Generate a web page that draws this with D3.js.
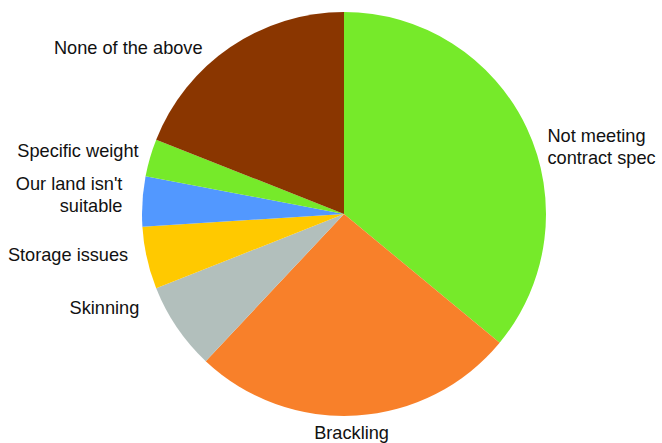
<!DOCTYPE html>
<html>
<head>
<meta charset="utf-8">
<script src="https://cdn.jsdelivr.net/npm/d3@7.9.0/dist/d3.min.js"></script>
<style>
    html, body { margin: 0; padding: 0; background: #fff; }
    svg { display: block; }
    .label { font-family: "Liberation Sans", Arial, Helvetica, sans-serif; font-size: 18.2px; fill: #111; }
</style>
</head>
<body>
<svg id="chart" width="662" height="443"></svg>
<script>
// chart values (percent of responses)
const categories = [
    'Not meeting\ncontract spec',
    'Brackling',
    'Skinning',
    'Storage issues',
    "Our land isn't\nsuitable",
    'Specific weight',
    'None of the above'
];
const values = [36, 26, 7, 5, 4, 3, 19];

const colors = ['#76ea2a', '#f8802a', '#b2bfbc', '#ffc900', '#5298ff', '#76ea2a', '#8a3600'];

// small hand nudges so labels sit where the original put them
const labelNudge = [[8, 25], [-6, 3], [-26, -28], [-5, -6], [-6, -6], [2, -3], [-20, 12]];

const cx = 344, cy = 214, radius = 202, lineH = 22;

const data = categories.map((c, i) => ({ label: c, value: values[i] }));

const svg = d3.select('#chart');
const g = svg.append('g').attr('transform', `translate(${cx},${cy})`);

let pie = d3.pie().value((d) => d.value).sort(null);
let arc = d3.arc().innerRadius(0).outerRadius(radius);
let labelArc = d3.arc().innerRadius(radius + 14).outerRadius(radius + 14);

const arcData = pie(data);

g.selectAll('path')
    .data(arcData)
    .join('path')
    .attr('d', arc)
    .attr('fill', (d, i) => colors[i]);

arcData.forEach((d, i) => {
    let [x, y] = labelArc.centroid(d);
    x += labelNudge[i][0];
    y += labelNudge[i][1];
    let mid = (d.startAngle + d.endAngle) / 2;
    let anchor = Math.abs(Math.sin(mid)) < 0.2 ? 'middle' : (Math.sin(mid) > 0 ? 'start' : 'end');
    let lines = d.data.label.split('\n');

    let text = g.append('text')
        .attr('class', 'label')
        .attr('text-anchor', anchor)
        .attr('transform', `translate(${x},${y})`);

    lines.forEach((line, j) => {
        text.append('tspan')
            .attr('x', 0)
            .attr('y', (j - (lines.length - 1) / 2) * lineH)
            .attr('dy', '0.35em')
            .text(line);
    });
});
</script>
</body>
</html>
